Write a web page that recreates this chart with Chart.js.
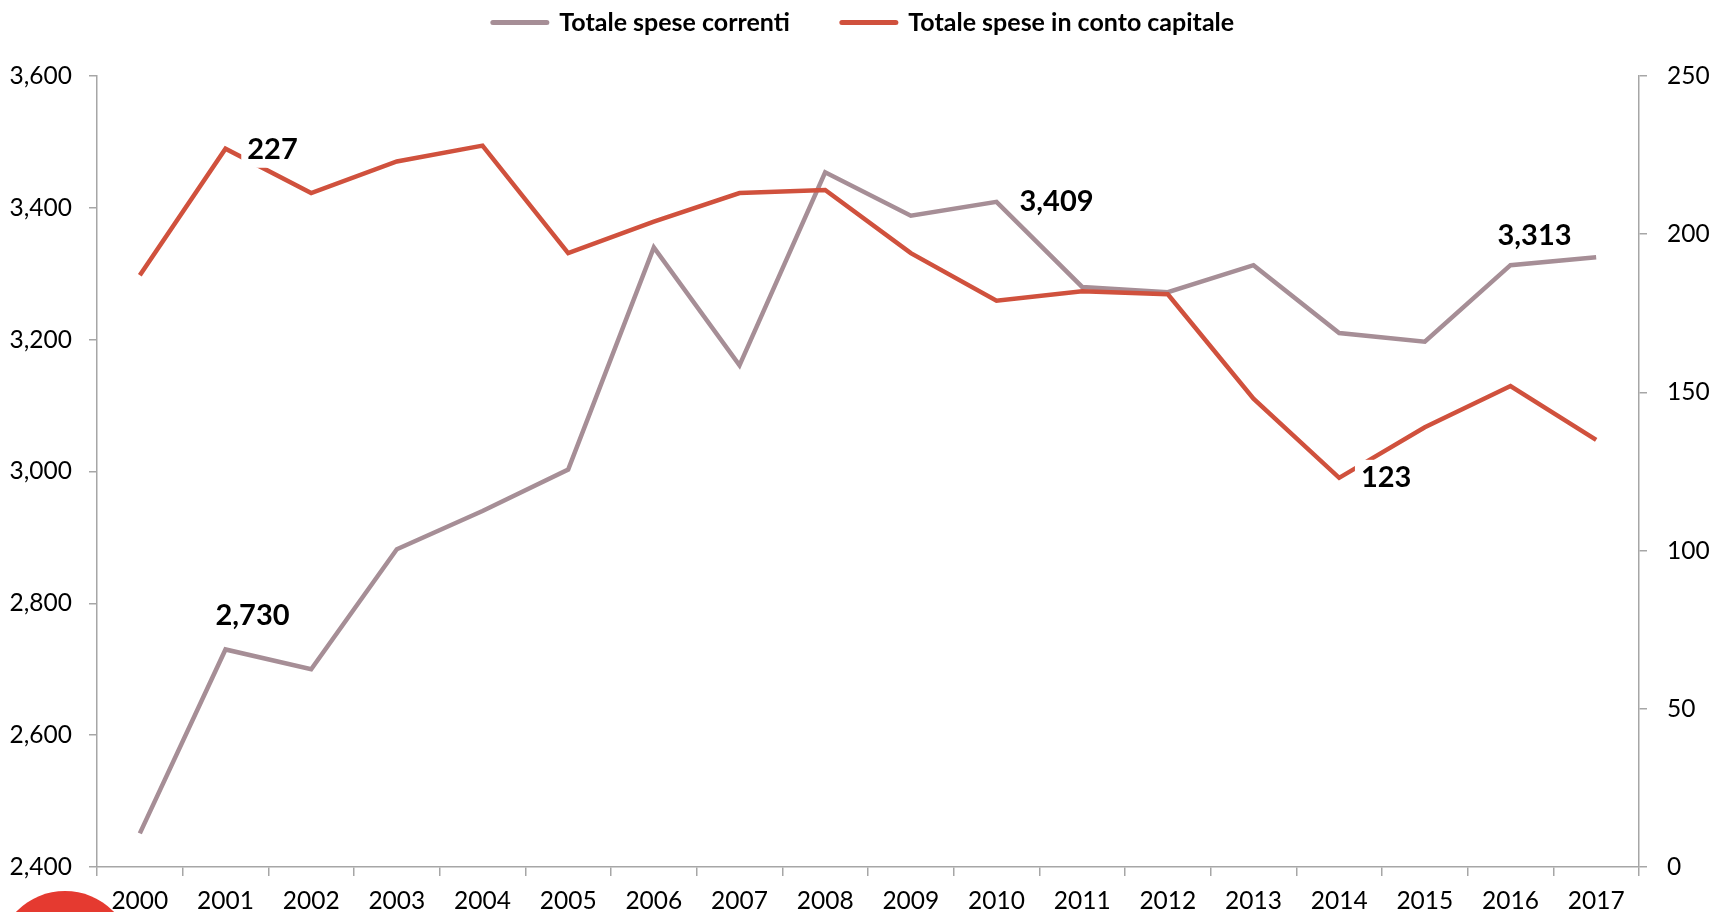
<!DOCTYPE html>
<html>
<head>
<meta charset="utf-8">
<script src="https://cdn.jsdelivr.net/npm/chart.js@4.4.1/dist/chart.umd.min.js"></script>
<style>
  html, body { margin: 0; padding: 0; background: #fff; }
  #wrap { width: 1709px; height: 912px; position: relative; }
</style>
</head>
<body>
<div id="wrap"><canvas id="c" width="1709" height="912"></canvas></div>
<script>
const years = ['2000','2001','2002','2003','2004','2005','2006','2007','2008','2009','2010','2011','2012','2013','2014','2015','2016','2017'];
const speseCorrenti = [2451, 2730, 2700, 2882, 2940, 3003, 3340, 3161, 3454, 3388, 3409, 3280, 3272, 3313, 3210, 3197, 3313, 3325];
const speseCapitale = [187, 227, 213, 223, 228, 194, 204, 213, 214, 194, 179, 182, 181, 148, 123, 139, 152, 135];
const leftTicks = [2400, 2600, 2800, 3000, 3200, 3400, 3600];
const rightTicks = [0, 50, 100, 150, 200, 250];
const seriesNames = ['Totale spese correnti', 'Totale spese in conto capitale'];
// labelled points: [dataset index, year]
const labelled = [[1, '2001'], [0, '2001'], [0, '2010'], [1, '2014'], [0, '2016']];

const GREY = '#a68e96';
const RED = '#d0513d';
const FONT = 'Lato, "Open Sans", "Liberation Sans", sans-serif';

const labelStyle = {
  '0-2001': { dx: 27, dy: -34, bg: false },
  '1-2001': { dx: 47, dy: 1, bg: true },
  '0-2010': { dx: 60, dy: 0, bg: false },
  '1-2014': { dx: 47, dy: 0, bg: true },
  '0-2016': { dx: 24, dy: -30, bg: false }
};

const LEGEND_EXTRA = 31;
const LEGEND_SHIFT = 9;

const legendPatch = {
  id: 'legendPatch',
  beforeLayout(chart) {
    const lg = chart.legend;
    if (lg && !lg.__patched) {
      const origFit = lg.fit;
      lg.fit = function () { origFit.call(this); this.height += LEGEND_EXTRA; };
      const origDraw = lg.draw;
      lg.draw = function () {
        this.ctx.save();
        this.ctx.translate(LEGEND_SHIFT, 0);
        origDraw.apply(this, arguments);
        this.ctx.restore();
      };
      lg.__patched = true;
    }
  }
};

const decoPlugin = {
  id: 'deco',
  beforeDraw(chart) {
    const ctx = chart.ctx;
    ctx.save();
    ctx.fillStyle = '#e53a30';
    ctx.beginPath();
    ctx.arc(65, 959, 68, 0, Math.PI * 2);
    ctx.fill();
    ctx.restore();
  }
};

const labelPlugin = {
  id: 'pointLabels',
  afterDatasetsDraw(chart) {
    const ctx = chart.ctx;
    ctx.save();
    ctx.font = 'bold 29px ' + FONT;
    ctx.textAlign = 'center';
    ctx.textBaseline = 'middle';
    labelled.forEach(([di, yr]) => {
      const idx = years.indexOf(yr);
      const pt = chart.getDatasetMeta(di).data[idx];
      const val = chart.data.datasets[di].data[idx];
      const txt = val.toLocaleString('en-US');
      const st = labelStyle[di + '-' + yr];
      const x = pt.x + st.dx, y = pt.y + st.dy;
      if (st.bg) {
        const w = ctx.measureText(txt).width + 12;
        ctx.fillStyle = '#fff';
        ctx.fillRect(x - w / 2, y - 18, w, 36);
      }
      ctx.fillStyle = '#000';
      ctx.fillText(txt, x, y);
    });
    ctx.restore();
  }
};

const axisColor = '#a6a6a6';

new Chart(document.getElementById('c'), {
  type: 'line',
  data: {
    labels: years,
    datasets: [
      { label: seriesNames[0], data: speseCorrenti, borderColor: GREY, backgroundColor: GREY,
        borderWidth: 4.5, pointRadius: 0, yAxisID: 'y', order: 1, tension: 0 },
      { label: seriesNames[1], data: speseCapitale, borderColor: RED, backgroundColor: RED,
        borderWidth: 4.5, pointRadius: 0, yAxisID: 'y2', order: 0, tension: 0 }
    ]
  },
  options: {
    responsive: false,
    animation: false,
    devicePixelRatio: 1,
    layout: { padding: { top: -42, left: 0, right: 0, bottom: 0 } },
    plugins: {
      tooltip: { enabled: false },
      legend: {
        position: 'top',
        labels: {
          font: { family: FONT, size: 25, weight: 'bold' },
          color: '#000',
          padding: 52,
          boxWidth: 54,
          usePointStyle: true,
          pointStyleWidth: 54,
          generateLabels(chart) {
            return chart.data.datasets.map((ds, i) => ({
              text: ds.label,
              fillStyle: ds.borderColor,
              strokeStyle: ds.borderColor,
              lineWidth: 5,
              lineCap: 'round',
              pointStyle: 'line',
              fontColor: '#000',
              hidden: false,
              datasetIndex: i
            }));
          }
        }
      }
    },
    scales: {
      x: {
        offset: true,
        grid: { offset: true, drawOnChartArea: false, drawTicks: true, tickLength: 9, color: axisColor, lineWidth: 1.5 },
        border: { color: axisColor, width: 1.5 },
        ticks: { font: { family: FONT, size: 24.5 }, color: '#000', padding: 10, maxRotation: 0, autoSkip: false },
        afterFit(s) { s.height = 45; }
      },
      y: {
        position: 'left',
        min: 2400, max: 3600,
        afterBuildTicks(s) { s.ticks = leftTicks.map(v => ({ value: v })); },
        grid: { drawOnChartArea: false, tickLength: 8, color: axisColor, lineWidth: 1.5 },
        border: { color: axisColor, width: 1.5 },
        ticks: { font: { family: FONT, size: 24.5 }, color: '#000', padding: 17,
          callback: v => v.toLocaleString('en-US') },
        afterFit(s) { s.width = 97; }
      },
      y2: {
        position: 'right',
        min: 0, max: 250,
        afterBuildTicks(s) { s.ticks = rightTicks.map(v => ({ value: v })); },
        grid: { drawOnChartArea: false, tickLength: 8, color: axisColor, lineWidth: 1.5 },
        border: { color: axisColor, width: 1.5 },
        ticks: { font: { family: FONT, size: 24.5 }, color: '#000', padding: 20 },
        afterFit(s) { s.width = 70; }
      }
    }
  },
  plugins: [legendPatch, decoPlugin, labelPlugin]
});
</script>
</body>
</html>
